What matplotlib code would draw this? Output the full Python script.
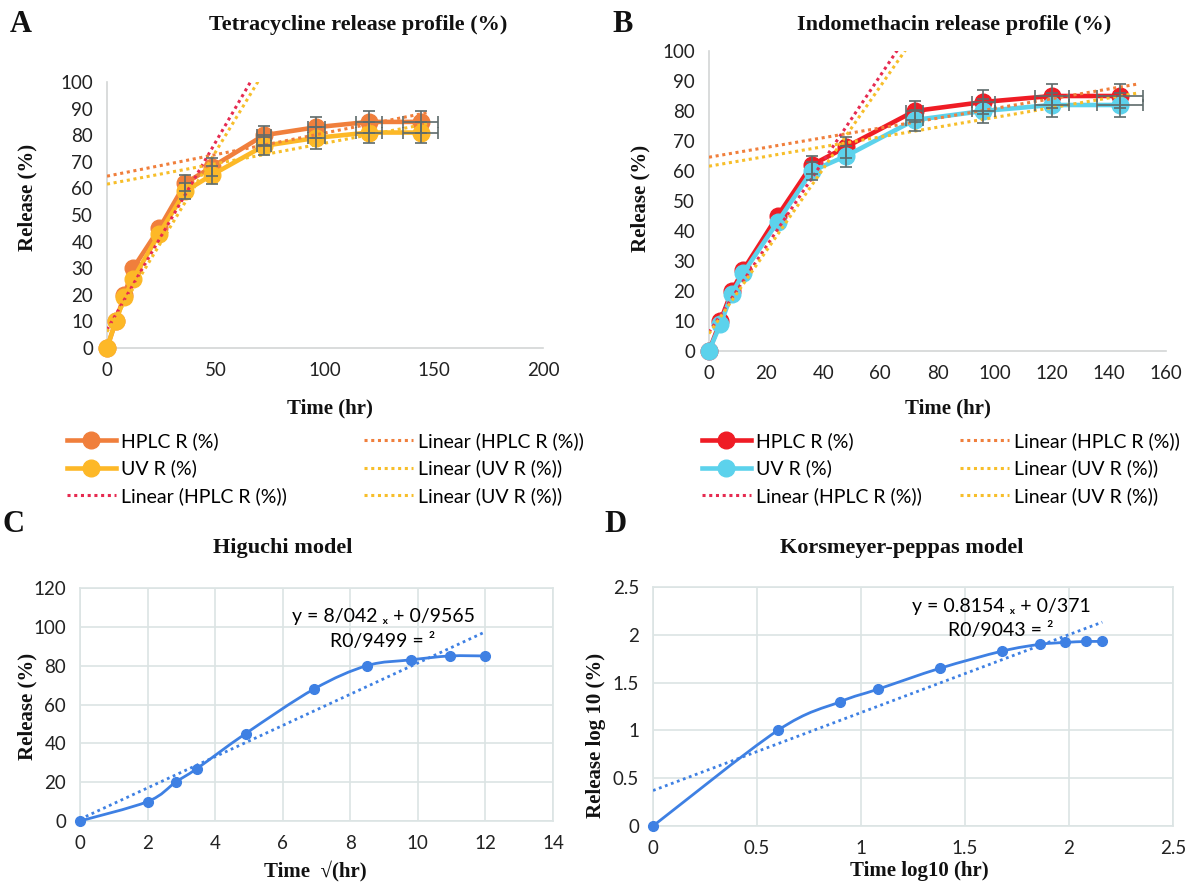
import numpy as np
import matplotlib
matplotlib.use("Agg")
import matplotlib.pyplot as plt
from matplotlib.path import Path
from matplotlib.patches import PathPatch

plt.rcParams['font.family'] = ['Lato', 'DejaVu Sans']

# ---- data ----
hours = [0, 4, 8, 12, 24, 36, 48, 72, 96, 120, 144]
tetra_hplc = [0, 10, 20, 30, 45, 62, 68, 80, 83, 85, 85]
tetra_uv = [0, 10, 19, 26, 43, 59, 65, 76, 79, 81, 81]
indo_hplc = [0, 10, 20, 27, 45, 62, 68, 80, 83, 85, 85]
indo_uv = [0, 9, 19, 26, 43, 60, 65, 77, 80, 82, 82]
y_err = [0, 0, 0, 0, 0, 3, 3.5, 3.5, 4, 4, 4]
x_err = [0, 0, 0, 0, 0, 0, 0, 3, 4, 6, 8]

sqrt_time = [0, 2, 2.83, 3.46, 4.9, 6.93, 8.49, 9.8, 10.95, 12]
higuchi_release = [0, 10, 20, 27, 45, 68, 80, 83, 85, 85]
higuchi_fit = (8.042, 0.9565)

log_time = [0, 0.60, 0.90, 1.08, 1.38, 1.68, 1.86, 1.98, 2.08, 2.16]
log_release = [0, 1.0, 1.30, 1.43, 1.65, 1.83, 1.90, 1.92, 1.93, 1.93]
kp_fit = (0.8154, 0.371)

ORANGE = '#F07F3C'
GOLD = '#FDB827'
RED = '#EF1C25'
CYAN = '#5CD2EC'
CRIMSON = '#E62A50'
TREND_GOLD = '#F7BE2A'
ERR = '#5E6B6B'
BLUE = '#3E80E3'
GRID = '#DCE4E4'
AXIS = '#D3D6D6'
SERIF = 'Liberation Serif'

W, H = 1190, 885


def fx(px):
    return px / W


def fy(py):
    return 1 - py / H


def rect(l, t, r, b):
    return [fx(l), fy(b), (r - l) / W, (b - t) / H]


def smooth_path(x, y):
    pts = np.column_stack([x, y]).astype(float)
    n = len(pts)
    verts = [pts[0]]
    codes = [Path.MOVETO]
    for i in range(n - 1):
        p0 = pts[max(i - 1, 0)]
        p1 = pts[i]
        p2 = pts[i + 1]
        p3 = pts[min(i + 2, n - 1)]
        verts += [p1 + (p2 - p0) / 6, p2 - (p3 - p1) / 6, p2]
        codes += [Path.CURVE4] * 3
    return Path(verts, codes)


fig = plt.figure(figsize=(11.9, 8.85), dpi=100)


def release_panel(ax, hplc, uv, c_hplc, c_uv, xmax, xstep, trend_end):
    t = np.array(hours)
    early = slice(0, 7)
    late = slice(6, 11)
    fits = [
        (np.polyfit(t[early], np.array(hplc)[early], 1), CRIMSON, 'Linear (HPLC R (%))', 0),
        (np.polyfit(t[late], np.array(hplc)[late], 1), ORANGE, 'Linear (HPLC R (%))', 1),
        (np.polyfit(t[late], np.array(uv)[late], 1), TREND_GOLD, 'Linear (UV R (%))', 2),
        (np.polyfit(t[early], np.array(uv)[early], 1), TREND_GOLD, 'Linear (UV R (%))', 3),
    ]
    l_hplc, = ax.plot(hours, hplc, color=c_hplc, lw=3.3, marker='o', ms=12,
                      clip_on=False, zorder=3, label='HPLC R (%)')
    l_uv, = ax.plot(hours, uv, color=c_uv, lw=3.3, marker='o', ms=12,
                    clip_on=False, zorder=3.1, label='UV R (%)')
    trend = {}
    for coef, col, lab, k in fits:
        xs = np.array([0, trend_end])
        ln, = ax.plot(xs, np.polyval(coef, xs), color=col, lw=2.2,
                      ls=(0, (1, 1.2)), zorder=4, label=lab)
        trend[k] = ln
    for vals in (hplc, uv):
        idx = [i for i in range(len(hours)) if y_err[i] > 0]
        ax.errorbar([hours[i] for i in idx], [vals[i] for i in idx],
                    yerr=[y_err[i] for i in idx], fmt='none', ecolor=ERR,
                    elinewidth=1.2, capsize=4, capthick=1.2, zorder=5)
        idx = [i for i in range(len(hours)) if x_err[i] > 0]
        ax.errorbar([hours[i] for i in idx], [vals[i] for i in idx],
                    xerr=[x_err[i] for i in idx], fmt='none', ecolor=ERR,
                    elinewidth=1.2, capsize=4, capthick=1.2, zorder=5)
    ax.set_xlim(0, xmax)
    ax.set_ylim(0, 100)
    ax.set_xticks(np.arange(0, xmax + 1, xstep))
    ax.set_yticks(np.arange(0, 101, 10))
    for s in ('top', 'right'):
        ax.spines[s].set_visible(False)
    for s in ('left', 'bottom'):
        ax.spines[s].set_color(AXIS)
        ax.spines[s].set_linewidth(1.2)
    ax.tick_params(length=0, labelsize=13.5, pad=10, colors='#222222')
    return [l_hplc, l_uv, trend[0]], [trend[1], trend[2], trend[3]]


# ---- panel A ----
axA = fig.add_axes(rect(107, 82, 543, 348))
h1, h2 = release_panel(axA, tetra_hplc, tetra_uv, ORANGE, GOLD, 200, 50, 148)
# ---- panel B ----
axB = fig.add_axes(rect(709, 51, 1166, 351))
g1, g2 = release_panel(axB, indo_hplc, indo_uv, RED, CYAN, 160, 20, 150)

leg_kw = dict(loc='upper left', frameon=False, fontsize=14, borderpad=0,
              borderaxespad=0, handlelength=2.5, handletextpad=0.3,
              labelspacing=0.5, bbox_transform=fig.transFigure)
for handles, xpx in ((h1, 67), (h2, 364), (g1, 702), (g2, 960)):
    fig.legend(handles=handles, labels=[h.get_label() for h in handles],
               bbox_to_anchor=(fx(xpx), fy(432)), **leg_kw)


def model_panel(ax, x, y, fit, xmax, xstep, ymax, ystep):
    ax.add_patch(PathPatch(smooth_path(x, y), fill=False, edgecolor=BLUE,
                           lw=2, zorder=3, clip_on=False))
    ax.plot(x, y, ls='none', marker='o', ms=7, color=BLUE, zorder=4, clip_on=False)
    xs = np.array([min(x), max(x)])
    ax.plot(xs, fit[0] * xs + fit[1], color=BLUE, lw=2, ls=(0, (1, 1.3)), zorder=3)
    ax.set_xlim(0, xmax)
    ax.set_ylim(0, ymax)
    ax.set_xticks(np.arange(0, xmax + 1e-9, xstep))
    ax.set_yticks(np.arange(0, ymax + 1e-9, ystep))
    ax.grid(True, color=GRID, lw=1.2)
    ax.set_axisbelow(True)
    for s in ax.spines.values():
        s.set_color(GRID)
        s.set_linewidth(1.2)
    ax.tick_params(length=0, labelsize=13.5, pad=10, colors='#222222')


axC = fig.add_axes(rect(80, 588, 553, 821))
model_panel(axC, sqrt_time, higuchi_release, higuchi_fit, 14, 2, 120, 20)
axC.text(8.97, 105.5, 'y = 8/042 \u2093 + 0/9565', ha='center', va='center', fontsize=14)
axC.text(8.97, 92.7, 'R0/9499 = \u00b2', ha='center', va='center', fontsize=14)

axD = fig.add_axes(rect(653, 587, 1173, 826))
model_panel(axD, log_time, log_release, kp_fit, 2.5, 0.5, 2.5, 0.5)
axD.set_xticklabels(['0', '0.5', '1', '1.5', '2', '2.5'])
axD.set_yticklabels(['0', '0.5', '1', '1.5', '2', '2.5'])
axD.text(1.673, 2.30, 'y = 0.8154 \u2093 + 0/371', ha='center', va='center', fontsize=14)
axD.text(1.673, 2.05, 'R0/9043 = \u00b2', ha='center', va='center', fontsize=14)

# ---- titles, labels, panel letters ----
bold = dict(family=SERIF, weight='bold', color='#111111')
for letter, xp, yp in (('A', 21, 25), ('B', 623, 25), ('C', 13, 525), ('D', 615, 525)):
    fig.text(fx(xp), fy(yp), letter, ha='center', va='center', fontsize=22, **bold)
for txt, xp, yp in (('Tetracycline release profile (%)', 358, 25),
                    ('Indomethacin release profile (%)', 954, 25),
                    ('Higuchi model', 283, 548),
                    ('Korsmeyer-peppas model', 902, 548)):
    fig.text(fx(xp), fy(yp), txt, ha='center', va='center', fontsize=16, **bold)
for txt, xp, yp in (('Time (hr)', 330, 408), ('Time (hr)', 948, 408),
                    ('Time  \u221a(hr)', 315, 871), ('Time log10 (hr)', 919, 871)):
    fig.text(fx(xp), fy(yp), txt, ha='center', va='center', fontsize=15, **bold)
for txt, xp, yp in (('Release (%)', 27, 197), ('Release (%)', 640, 198),
                    ('Release (%)', 27, 706), ('Release log 10 (%)', 596, 735)):
    fig.text(fx(xp), fy(yp), txt, ha='center', va='center', fontsize=15,
             rotation=90, **bold)

fig.savefig('out.png', dpi=100)
